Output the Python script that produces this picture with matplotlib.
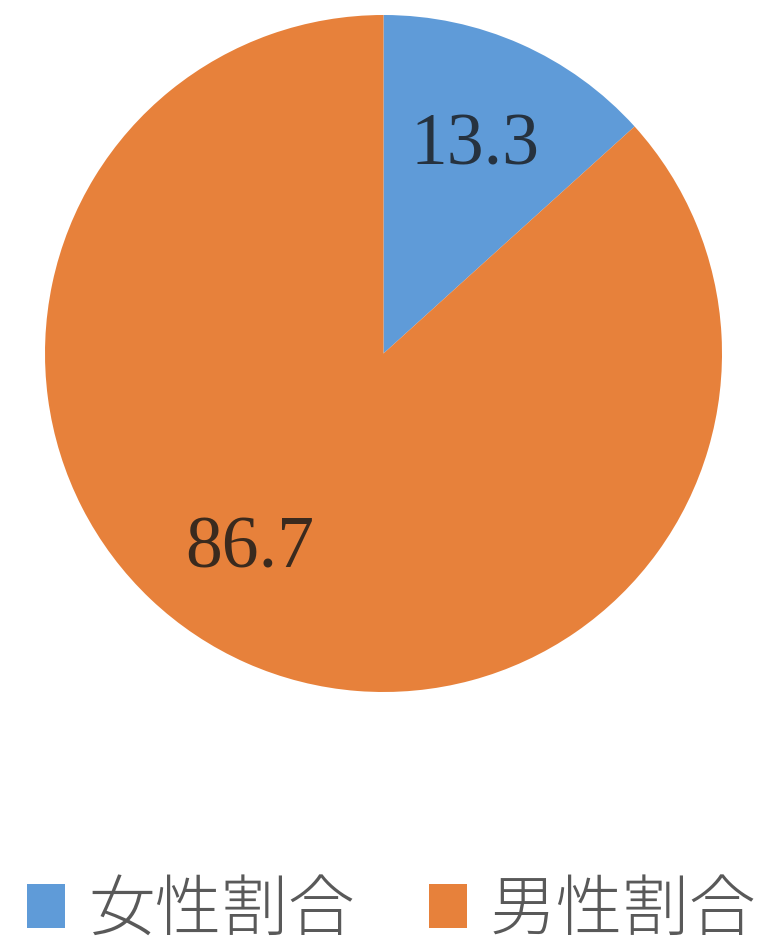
import matplotlib.pyplot as plt
from matplotlib.patches import Patch

labels = ["女性割合", "男性割合"]
values = [13.3, 86.7]
colors = ["#5f9bd8", "#e7813b"]
value_colors = ["#26323f", "#3a2a1e"]

fig = plt.figure(figsize=(7.76, 9.44), dpi=100)
ax = fig.add_axes([45 / 776, 1 - 692 / 944, 677 / 776, 677 / 944])

wedges, _ = ax.pie(values, colors=colors, startangle=90, counterclock=False,
                   radius=1, wedgeprops=dict(linewidth=0))
ax.set_xlim(-1, 1)
ax.set_ylim(-1, 1)
ax.set_aspect("equal")
ax.axis("off")

# label spots (data coords, pie radius = 1)
label_xy = [(0.27, 0.61), (-0.394, -0.58)]
for v, (x, y), c in zip(values, label_xy, value_colors):
    ax.text(x, y, f"{v:.1f}", ha="center", va="center", fontsize=53,
            family="Liberation Serif", color=c)

handles = [Patch(facecolor=c, edgecolor="none") for c in colors]
fig.legend(handles, labels, loc="center", bbox_to_anchor=(0.505, 1 - 911 / 944),
           ncol=2, frameon=False,
           prop=dict(family=["Noto Sans CJK JP", "DejaVu Sans"], size=48, weight="light"),
           handlelength=0.57, handleheight=0.64, handletextpad=0.35,
           columnspacing=1.1, labelcolor="#595959", borderpad=0)

fig.savefig("out.png", dpi=100)
